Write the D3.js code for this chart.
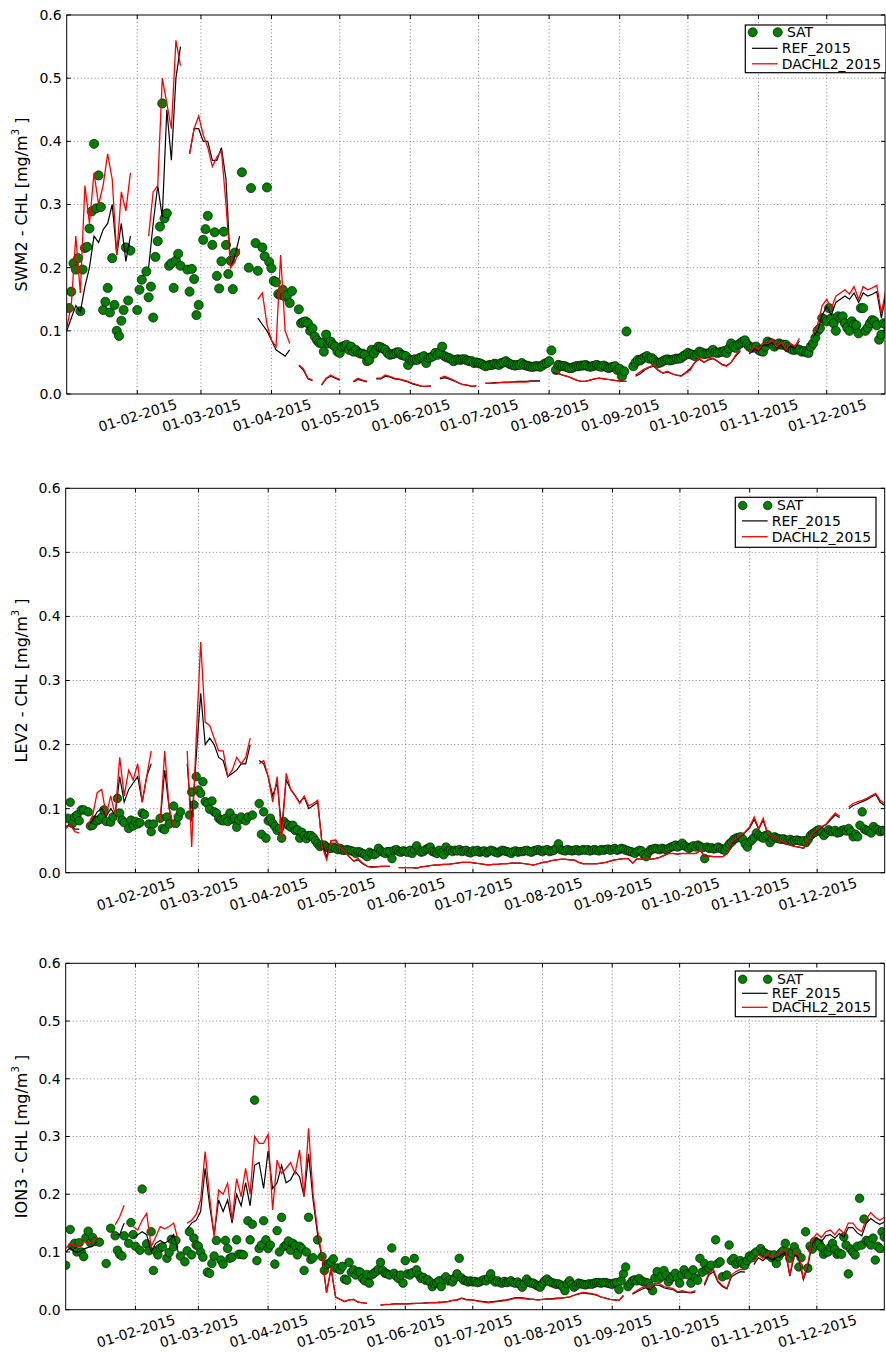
<!DOCTYPE html>
<html>
<head>
<meta charset="utf-8">
<script src="https://cdn.jsdelivr.net/npm/d3@7"></script>
<style>
  body { margin: 0; background: #fff; }
  text { font-family: "DejaVu Sans", sans-serif; }
</style>
</head>
<body>
<script>
const _ = null;

// day index 0 = 01-01-2015, one value per day (null = no satellite data)
const sat1 = [
  _, .136, .162, .207, .197, .215, .131, .197, .231, .233,
  .262, .289, .396, .294, .346, .296, .133, .146, .168, .129,
  .215, .141, .100, .092, .116, .133, .232, .148, .227, _,
  _, .133, .165, .181, _, .194, .153, .170, .121, .217,
  .242, .265, .460, .278, .286, .203, .207, .168, .211, .222,
  .203, _, _, .197, .162, .198, .182, .125, .141, _,
  .244, .261, .282, _, .236, .256, .187, .167, .210, .257,
  .236, .190, .211, .166, .224, _, _, .351, _, _,
  .200, .326, _, .239, .195, _, .232, .218, .327, .209,
  .199, .179, .177, .158, .157, .165, .154, .157, .144, .163,
  _, _, .134, .112, .114, .115, .112, .100, .104, .091,
  .085, .081, .081, .067, .094, .080, .083, .078, .075, .067,
  .065, .075, .076, .078, .070, .075, .067, .070, .066, .064,
  .064, .062, .052, .054, .070, .064, .070, .075, .074, .072,
  .070, .065, .062, .063, .064, .066, .066, .062, .061, .060,
  .046, .054, .053, .055, .054, .057, .058, .060, .049, .057,
  .058, .060, .065, .062, .065, .075, .060, .058, .057, .055,
  .052, .054, .055, .054, .055, .055, .053, .052, .052, .049,
  .050, .049, .048, .046, .044, .045, .046, .046, .048, .047,
  .046, .049, .050, .052, .049, .047, .046, .045, .046, .046,
  .049, .046, .045, .044, .043, .043, .044, .044, .043, .045,
  .048, .049, .052, .069, _, .038, .046, .045, .044, .044,
  .042, .041, .041, .043, .044, .044, .045, .045, .046, .044,
  .043, .044, .045, .046, .044, .043, .045, .043, .041, .042,
  .043, .044, .038, .040, .028, .036, .099, _, _, .044,
  .050, .054, .053, .056, .058, .060, .056, .057, .054, .050,
  .049, .050, .052, .054, .055, .053, .054, .055, .056, .056,
  .057, .060, .062, .065, .063, .062, .060, .063, .067, .066,
  .063, .064, .064, .066, .070, .066, .065, .066, .067, .068,
  .065, .072, .080, .075, .073, .078, .080, .083, .085, .079,
  .075, .073, .074, .075, .070, .068, .067, .075, .083, .081,
  .080, .075, .078, .080, .078, .078, .078, .074, .072, .070,
  .070, .071, .070, .067, .068, .066, .065, .075, .080, .089,
  .100, .104, .120, .118, .115, .136, .120, .112, .100, .123,
  .120, .123, .112, .105, .100, .115, .110, .109, .096, .136,
  .136, .100, .105, .112, .117, .115, .109, .086, .094, .112,
  .110, .100, _, _, _
];

// model lines, one value every 2 days (index i = day 2i)
const ref1 = [
  .100, .120, .140, .130, .170, .200, .250, .240, .260, .270,
  .300, .220, .270, .210, .250, _, .290, _, .200, .270,
  .330, .280, .450, .370, .500, .550, _, .380, .420, .420,
  .400, .400, .370, .370, .390, .340, .200, .220, .250, _,
  .150, _, .120, .110, .100, .085, .070, .065, .060, .070,
  _, .045, .038, .024, .021, _, .014, .024, .028, .025,
  .022, _, _, .019, .023, .021, .019, _, .024, .024,
  .028, .027, .024, .023, .021, .019, .016, .014, .012, .012,
  .013, _, .024, .026, .024, .021, .018, .015, .014, .012,
  .013, _, .017, .017, .018, .018, .019, .019, .019, .020,
  .020, .020, .021, .021, .021, _, _, .034, .032, .030,
  .028, .025, .022, .020, .020, .022, .024, .025, .024, .023,
  .022, .021, .020, .020, _, .028, .032, .038, .042, .044,
  .037, .033, .035, .032, .030, .029, .034, .040, .050, .055,
  .050, .054, .056, .052, .047, .045, .050, .060, .068, _,
  .063, .072, .068, .077, .078, .082, .073, .078, .068, .076,
  .072, .084, _, _, .090, .100, .125, .138, .125, .145,
  .150, .155, .150, .160, .145, .160, .155, .158, .162, .120,
  .158, .160, .160
];
const dachl1 = [
  .105, .140, .250, .160, .330, .270, .350, .300, .330, .380,
  .340, .220, .320, .290, .350, _, .320, _, .250, .320,
  .330, .500, .460, .420, .560, .520, _, .380, .420, .440,
  .410, .390, .360, .375, .385, .300, .200, .210, .230, _,
  .150, _, .150, .160, .110, .085, .075, .220, .100, .080,
  _, .046, .040, .025, .022, _, .015, .025, .030, .026,
  .023, _, _, .020, .025, .022, .020, _, .025, .025,
  .030, .028, .025, .024, .022, .020, .017, .015, .012, .012,
  .013, _, .025, .028, .025, .022, .018, .015, .014, .012,
  .013, _, .017, .017, .017, .018, .018, .018, .019, .019,
  .019, .019, .020, .020, .020, _, _, .036, .033, .030,
  .028, .025, .022, .020, .020, .022, .024, .025, .024, .023,
  .022, .021, .020, .020, _, .030, .035, .040, .043, .046,
  .038, .033, .036, .032, .030, .028, .033, .038, .050, .057,
  .050, .055, .057, .052, .046, .044, .050, .062, .070, _,
  .065, .075, .070, .080, .080, .086, .075, .082, .070, .080,
  .075, .088, _, _, .096, .110, .140, .150, .135, .155,
  .160, .165, .158, .170, .150, .170, .165, .168, .172, .128,
  .165, .165, .165
];

const sat2 = [
  _, .085, .110, .077, .087, .090, .081, .098, .098, _,
  .095, .073, .074, .082, .081, .083, .087, .098, .080, _,
  .079, .087, _, .116, .093, .082, .078, _, .069, .082,
  .073, .080, .076, .078, .093, .091, _, .076, .064, .076,
  _, _, .085, .069, .067, .087, .076, _, .104, .077,
  .087, .095, _, _, _, .090, .126, .106, .150, .129,
  .124, .142, .111, .108, .099, .112, .095, .093, .085, .082,
  .081, .085, .080, .093, .083, .085, .071, .082, .087, _,
  .081, .087, _, .090, _, _, .108, .060, .095, .054,
  .081, .085, .077, .072, .066, .069, .054, .080, .076, .074,
  .071, .074, .066, .067, .054, .063, .058, .053, .058, .058,
  .055, .050, .045, .041, .043, .043, .040, .038, .038, .040,
  .038, .036, .038, .035, .035, .036, .035, .034, .033, .030,
  .033, .032, .030, .028, .025, .032, .030, .028, .030, .038,
  .034, .032, .030, .033, .033, .022, .035, .036, .033, .032,
  .034, .033, .032, .035, .030, .036, .042, .035, .032, .033,
  .036, .038, .040, .033, .032, .030, .035, .031, .028, .040,
  .034, .035, .033, .035, .034, .036, .033, .034, .035, .032,
  .031, .034, .033, .035, .032, .033, .034, .031, .033, .035,
  .034, .032, .031, .033, .035, .034, .033, .032, .030, .033,
  .034, .032, .033, .033, .034, .035, .033, .032, .034, .035,
  .036, .034, .033, .035, .036, .033, .034, .035, .038, .045,
  .036, .035, .034, .036, .035, .034, .035, .036, .034, .035,
  .036, .035, .036, .034, .035, .036, .035, .034, .036, .035,
  .036, .037, .035, .036, .038, .035, .036, .038, .037, .035,
  .034, .033, .032, .030, .033, .035, .034, .028, .025, .032,
  .036, .037, .038, .037, .036, .038, .037, .036, .038, .040,
  .041, .043, .040, .042, .046, .042, .040, .038, .040, .042,
  .040, .043, .041, .039, .022, .040, .038, .039, .037, .038,
  .040, .038, .036, .035, .040, .045, .048, .052, .054, .055,
  .056, .052, .045, .040, .048, .051, .055, .062, .058, .056,
  .054, .058, .059, .047, .052, .056, .054, .053, .052, .053,
  .051, .050, .052, .049, .050, .051, .050, .049, .050, .047,
  .052, .058, .061, .063, .066, .067, .063, .058, .062, .067,
  .065, .064, .066, .062, .063, .066, .067, .065, .069, .064,
  .056, .060, .056, .074, .095, .068, .066, .065, .062, .072,
  .068, .067, .064, .066, .065
];
const ref2 = [
  .072, .075, .068, .068, _, .074, .082, .095, .100, .088,
  .100, .090, .150, .110, .130, .140, .150, .110, .150, .170,
  _, .080, .160, .100, .070, _, _, .170, .080, .180,
  .280, .200, .210, .200, .180, .175, .150, .155, .160, .170,
  .170, .200, _, .175, .170, .150, .120, .140, .070, .145,
  .130, .120, .110, .118, .100, .105, .110, .045, .025, .050,
  .050, .040, .033, .025, .018, .020, .014, .010, .009, .009,
  .010, .010, .010, _, .008, .008, .008, .008, .007, .009,
  .010, .011, .012, .012, .013, .013, .014, .015, .016, .016,
  .016, .015, .014, .013, .012, .013, .013, .014, .014, .015,
  .015, .015, .014, .013, .012, .014, .016, .017, .019, .020,
  .021, .021, .020, .020, .016, .014, .014, .014, .014, .015,
  .016, .018, .020, .021, .022, .022, .015, .022, .021, .021,
  .021, .022, .024, .027, .030, .030, .029, .030, .030, .030,
  .030, .034, .026, .026, .025, .025, .025, .030, .046, .052,
  .057, .063, .070, .083, .068, .082, .060, .056, .053, .050,
  .046, .043, .041, .040, .038, .050, .060, .066, .071, .075,
  .083, .090, .086, _, .100, .105, .108, .111, .114, .118,
  .122, .110, .105
];
const dachl2 = [
  .069, .075, .064, .062, _, .074, .090, .125, .130, .090,
  .120, .090, .180, .120, .160, .145, .170, .110, .150, .190,
  _, .080, .190, .100, .070, _, _, .190, .040, .210,
  .360, .235, .230, .210, .190, .190, .150, .160, .180, .170,
  .180, .210, _, .170, .175, .150, .110, .150, .050, .155,
  .130, .120, .108, .120, .104, .108, .113, .040, .020, .050,
  .051, .040, .033, .025, .018, .022, .015, .010, .008, .009,
  .010, .010, .010, _, .008, .008, .008, .008, .007, .009,
  .010, .011, .012, .012, .013, .013, .014, .015, .016, .016,
  .016, .015, .014, .013, .012, .013, .013, .014, .014, .015,
  .015, .015, .014, .013, .012, .014, .016, .017, .019, .020,
  .021, .021, .020, .020, .016, .014, .014, .014, .014, .015,
  .016, .018, .020, .021, .022, .022, .015, .022, .021, .021,
  .021, .022, .024, .027, .030, .030, .029, .030, .030, .030,
  .030, .035, .026, .026, .025, .025, .025, .030, .048, .053,
  .058, .064, .072, .087, .069, .085, .061, .056, .053, .050,
  .046, .043, .041, .040, .038, .050, .061, .067, .072, .076,
  .085, .093, .088, _, .103, .108, .111, .113, .116, .120,
  .124, .113, .108
];

const sat3 = [
  .077, _, .139, .110, .115, .100, .116, .100, .092, .125,
  .136, .116, .125, .118, _, .117, _, _, .080, _,
  .141, _, .128, .103, .096, .093, .128, _, .115, .151,
  .130, .110, _, .103, .209, _, .114, .102, .135, .068,
  .102, .095, .107, .109, _, .089, .099, .122, .109, .120,
  _, .093, _, .083, .102, .135, .095, .124, .112, .110,
  .100, .091, _, .065, .063, .080, .093, .120, _, .086,
  .079, .120, .106, .089, .091, _, .121, .096, .096, .095,
  _, .154, .121, .148, .363, .085, .106, .112, .154, .121,
  .106, .112, _, .079, .137, .100, .160, .109, .112, .119,
  .103, .115, .111, .095, .110, .106, .068, .100, .160, .087,
  .090, _, .121, _, .092, .068, .078, .080, .083, .088,
  .072, .072, .069, .075, .053, .051, .082, .065, .069, .060,
  .066, .065, .054, .050, .061, .046, .060, .063, .066, .070,
  .082, .068, .063, .062, .060, .107, .063, .058, .054, .060,
  .046, .085, .062, .060, .064, .089, .069, .060, .054, .056,
  .051, .052, .048, .040, .045, .047, .050, .040, .052, .057,
  .050, .052, .048, .055, .062, .089, .055, .051, .050, .048,
  .050, .048, .049, .047, .048, .050, .052, .050, .055, .062,
  .052, .048, .050, .047, .046, .049, .047, .048, .050, .047,
  .046, .048, .044, .039, .045, .053, .048, .046, .046, .043,
  .041, .039, .045, .050, .053, .049, .047, .046, .044, .045,
  .043, .040, .033, .045, .050, .044, .039, .042, .046, .045,
  .044, .043, .044, .045, .044, .046, .047, .047, .046, .047,
  .047, .046, .045, .044, .046, .047, .035, .050, .062, .074,
  .040, .045, .050, .052, .050, .054, .050, .048, .047, .046,
  .040, .033, .055, .066, .054, .058, .068, .060, .048, .054,
  .058, .063, .055, .046, .060, .069, .062, .060, .046, .069,
  .055, .051, .089, .065, .080, .069, .072, .077, _, .121,
  .080, .083, .057, _, .060, .112, .085, .089, .079, .083,
  .085, .080, .077, .085, .093, .090, .096, .100, _, .106,
  .100, .098, .095, .095, .090, .095, .080, .092, .098, .102,
  .115, .100, .089, .098, .109, .100, .074, .090, _, .135,
  .072, .110, .105, .118, .112, .115, .108, .096, .100, .100,
  .108, .115, .105, .096, .098, .096, .126, .112, .062, .105,
  .100, .095, .110, .193, .112, .157, .120, .118, .112, .124,
  .086, .110, .106, .135, .126
];
const ref3 = [
  .100, .107, .100, .100, .105, .108, .110, .118, _, _,
  _, .130, .130, .150, _, .125, .130, .135, .130, .100,
  .115, .120, .115, .120, .130, .100, _, .140, .150, .155,
  .170, .245, .180, .130, .190, .170, .190, .150, .200, .180,
  .220, .180, .250, .255, .210, .275, .210, .220, .250, .220,
  .225, .240, .230, .196, .270, .190, .130, .090, .030, .070,
  .022, .018, .014, .017, .018, .013, .012, .011, _, _,
  .008, .009, .009, .010, .010, .010, .010, .011, .011, .011,
  .012, .012, .012, .013, .013, .014, .016, .017, .020, .018,
  .017, .016, .015, .014, .013, .014, .015, .016, .017, .019,
  .021, .021, .020, .019, .018, .017, .018, .019, .019, .020,
  .020, .021, .022, .025, .027, .029, .028, .027, .025, .022,
  .020, .018, .017, .016, .024, _, .027, .031, .035, .038,
  .035, .043, .042, .038, .036, .035, .030, .031, .030, .029,
  .031, _, .042, .060, .066, .048, .040, .036, .057, .062,
  .066, .065, _, .078, .090, .085, .092, .086, .090, .094,
  .100, .058, .095, .090, .052, .076, .115, .125, .118, .128,
  .130, .124, .132, .126, .142, .142, .133, .128, .150, .158,
  .152, .148, .152
];
const dachl3 = [
  .106, .115, .110, .109, .118, .115, .118, .126, _, _,
  _, .147, .161, .181, _, .144, .138, .155, .167, .109,
  .126, .144, .140, .144, .150, .120, _, .150, .155, .165,
  .190, .274, .196, .126, .207, .200, .219, .155, .227, .196,
  .245, .200, .300, .288, .288, .304, .173, .259, .236, .245,
  .255, .236, .277, .196, .314, .200, .138, .092, .029, .074,
  .022, .018, .014, .017, .018, .013, .012, .011, _, _,
  .008, .009, .009, .010, .010, .010, .010, .010, .011, .011,
  .011, .012, .012, .012, .013, .014, .016, .016, .020, .017,
  .017, .016, .014, .013, .012, .013, .014, .015, .016, .018,
  .020, .020, .019, .018, .018, .017, .018, .018, .018, .019,
  .020, .021, .022, .025, .028, .030, .029, .028, .026, .022,
  .020, .018, .017, .016, .025, _, .028, .033, .038, .040,
  .037, .046, .045, .040, .038, .037, .031, .033, .031, .030,
  .033, _, .045, .063, .070, .050, .042, .037, .060, .066,
  .070, .069, _, .083, .095, .089, .098, .090, .095, .100,
  .106, .060, .100, .095, .054, .080, .121, .132, .125, .135,
  .138, .130, .140, .132, .150, .150, .140, .135, .158, .168,
  .160, .155, .160
];

const stationNames = ["SWM2", "LEV2", "ION3"];
const yTicks = [0, 0.1, 0.2, 0.3, 0.4, 0.5, 0.6];
const legendLabels = ["SAT", "REF_2015", "DACHL2_2015"];

const panels = [
  {name: stationNames[0], sat: sat1, ref: ref1, dachl: dachl1,
   left: 66.7, right: 885, top: 15, bottom: 394, lastDay: 359.6, r: 4.6,
   lx: 745.3, ly: 25, lh: 47.7, rows: [7.3, 23.3, 38.8]},
  {name: stationNames[1], sat: sat2, ref: ref2, dachl: dachl2,
   left: 65.7, right: 884.7, top: 488.3, bottom: 872.7, lastDay: 364, r: 4.3,
   lx: 735.3, ly: 497.3, lh: 50, rows: [8.2, 23.6, 39.4]},
  {name: stationNames[2], sat: sat3, ref: ref3, dachl: dachl3,
   left: 65.7, right: 884.3, top: 963.3, bottom: 1309.7, lastDay: 364, r: 4.3,
   lx: 735.3, ly: 971, lh: 45.7, rows: [8.3, 22.3, 36.3]}
];

const day0 = Date.UTC(2015, 0, 1);
const toDate = d => new Date(day0 + d * 864e5);
const monthTicks = d3.utcMonth.range(new Date(Date.UTC(2015, 1, 1)), new Date(Date.UTC(2015, 11, 2)));
const fmt = d3.utcFormat("%d-%m-%Y");

const svg = d3.select("body").append("svg")
  .attr("width", 886)
  .attr("height", 1353);
svg.append("rect").attr("width", 886).attr("height", 1353).attr("fill", "#fff");

panels.forEach((p, k) => {
  const x = d3.scaleUtc().domain([toDate(0), toDate(p.lastDay)]).range([p.left, p.right]);
  const y = d3.scaleLinear().domain([0, 0.6]).range([p.bottom, p.top]);
  const w = p.right - p.left, h = p.bottom - p.top;
  const g = svg.append("g");

  const clipId = "clip" + k;
  g.append("clipPath").attr("id", clipId)
    .append("rect").attr("x", p.left).attr("y", p.top).attr("width", w).attr("height", h);

  // dotted grid
  g.append("g").selectAll("line").data(monthTicks).join("line")
    .attr("x1", d => x(d)).attr("x2", d => x(d))
    .attr("y1", p.top).attr("y2", p.bottom)
    .attr("stroke", "#666").attr("stroke-width", 0.8).attr("stroke-dasharray", "1,2.5");
  g.append("g").selectAll("line").data(yTicks.slice(1, -1)).join("line")
    .attr("x1", p.left).attr("x2", p.right)
    .attr("y1", d => y(d)).attr("y2", d => y(d))
    .attr("stroke", "#666").attr("stroke-width", 0.8).attr("stroke-dasharray", "1,2.5");

  // inward tick marks on all four sides
  const tk = g.append("g").attr("stroke", "#000").attr("stroke-width", 1);
  yTicks.forEach(v => {
    tk.append("line").attr("x1", p.left).attr("x2", p.left + 4).attr("y1", y(v)).attr("y2", y(v));
    tk.append("line").attr("x1", p.right).attr("x2", p.right - 4).attr("y1", y(v)).attr("y2", y(v));
  });
  monthTicks.forEach(d => {
    tk.append("line").attr("x1", x(d)).attr("x2", x(d)).attr("y1", p.bottom).attr("y2", p.bottom - 4);
    tk.append("line").attr("x1", x(d)).attr("x2", x(d)).attr("y1", p.top).attr("y2", p.top + 4);
  });

  // y axis labels
  const yAxis = d3.axisLeft(y).tickValues(yTicks).tickFormat(d3.format(".1f")).tickSize(0).tickPadding(5);
  const ya = g.append("g").attr("transform", `translate(${p.left},0)`).call(yAxis);
  ya.select(".domain").remove();
  ya.selectAll("text").attr("font-family", "DejaVu Sans").attr("font-size", 14).attr("fill", "#000");

  // x axis labels, rotated
  const xAxis = d3.axisBottom(x).tickValues(monthTicks).tickFormat(fmt).tickSize(0);
  const xa = g.append("g").attr("transform", `translate(0,${p.bottom})`).call(xAxis);
  xa.select(".domain").remove();
  xa.selectAll("text")
    .attr("y", 0).attr("dy", "0.35em")
    .attr("transform", "translate(0,21.5) rotate(-17)")
    .attr("text-anchor", "middle")
    .attr("font-family", "DejaVu Sans").attr("font-size", 14).attr("fill", "#000");

  // y axis title
  const yt = g.append("text")
    .attr("transform", `translate(21,${(p.top + p.bottom) / 2}) rotate(-90)`)
    .attr("text-anchor", "middle").attr("dy", "0.35em")
    .attr("font-size", 16).attr("fill", "#000");
  yt.append("tspan").text(`${p.name} - CHL [mg/m`);
  yt.append("tspan").attr("font-size", 10).attr("dy", "-0.8em").text("3");
  yt.append("tspan").attr("dy", "0.5em").text(" ]");

  // satellite points
  const satPts = p.sat.map((v, i) => ({d: i, v})).filter(o => o.v !== null);
  g.append("g").attr("clip-path", `url(#${clipId})`)
    .selectAll("circle").data(satPts).join("circle")
    .attr("cx", o => x(toDate(o.d))).attr("cy", o => y(o.v)).attr("r", p.r)
    .attr("fill", "#008000").attr("stroke", "#000").attr("stroke-width", 0.6);

  // model lines
  const line = d3.line()
    .defined(o => o.v !== null)
    .x(o => x(toDate(o.d))).y(o => y(o.v));
  const asPts = arr => arr.map((v, i) => ({d: i * 2, v}));
  const lg = g.append("g").attr("clip-path", `url(#${clipId})`).attr("fill", "none");
  lg.append("path").attr("d", line(asPts(p.ref))).attr("stroke", "#000").attr("stroke-width", 1.2);
  lg.append("path").attr("d", line(asPts(p.dachl))).attr("stroke", "#ff0000").attr("stroke-width", 1.3);

  // frame
  g.append("rect").attr("x", p.left).attr("y", p.top).attr("width", w).attr("height", h)
    .attr("fill", "none").attr("stroke", "#000").attr("stroke-width", 1);

  // legend
  const leg = g.append("g").attr("transform", `translate(${p.lx},${p.ly})`);
  leg.append("rect").attr("width", 140.7).attr("height", p.lh)
    .attr("fill", "#fff").attr("stroke", "#000").attr("stroke-width", 1.2);
  [7.4, 32.4].forEach(cx => {
    leg.append("circle").attr("cx", cx).attr("cy", p.rows[0]).attr("r", p.r)
      .attr("fill", "#008000").attr("stroke", "#000").attr("stroke-width", 0.6);
  });
  leg.append("line").attr("x1", 6.7).attr("x2", 32.4).attr("y1", p.rows[1]).attr("y2", p.rows[1])
    .attr("stroke", "#000").attr("stroke-width", 1.2);
  leg.append("line").attr("x1", 6.7).attr("x2", 32.4).attr("y1", p.rows[2]).attr("y2", p.rows[2])
    .attr("stroke", "#ff0000").attr("stroke-width", 1.3);
  legendLabels.forEach((t, i) => {
    leg.append("text").attr("x", i === 0 ? 41.6 : 36.4).attr("y", p.rows[i]).attr("dy", "0.35em")
      .attr("font-size", 14).attr("fill", "#000").text(t);
  });
});
</script>
</body>
</html>
